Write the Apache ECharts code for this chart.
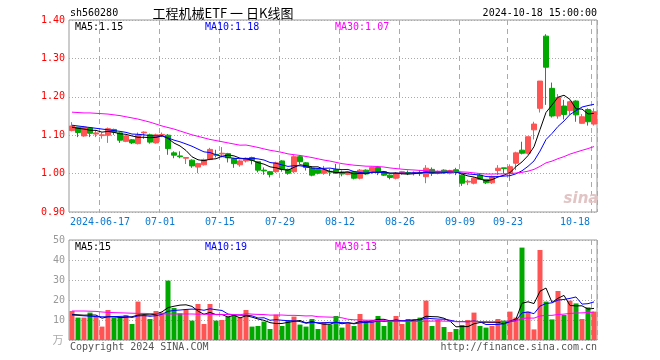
<!DOCTYPE html>
<html><head><meta charset="utf-8">
<script src="https://cdn.jsdelivr.net/npm/echarts@6/dist/echarts.min.js"></script>
<style>html,body{margin:0;padding:0;background:#fff}#c{width:660px;height:360px}</style>
</head><body><div id="c"></div>
<script>
const categories = [
'2024-06-07','2024-06-11','2024-06-12','2024-06-13','2024-06-14',
'2024-06-17','2024-06-18','2024-06-19','2024-06-20','2024-06-21',
'2024-06-24','2024-06-25','2024-06-26','2024-06-27','2024-06-28',
'2024-07-01','2024-07-02','2024-07-03','2024-07-04','2024-07-05',
'2024-07-08','2024-07-09','2024-07-10','2024-07-11','2024-07-12',
'2024-07-15','2024-07-16','2024-07-17','2024-07-18','2024-07-19',
'2024-07-22','2024-07-23','2024-07-24','2024-07-25','2024-07-26',
'2024-07-29','2024-07-30','2024-07-31','2024-08-01','2024-08-02',
'2024-08-05','2024-08-06','2024-08-07','2024-08-08','2024-08-09',
'2024-08-12','2024-08-13','2024-08-14','2024-08-15','2024-08-16',
'2024-08-19','2024-08-20','2024-08-21','2024-08-22','2024-08-23',
'2024-08-26','2024-08-27','2024-08-28','2024-08-29','2024-08-30',
'2024-09-02','2024-09-03','2024-09-04','2024-09-05','2024-09-06',
'2024-09-09','2024-09-10','2024-09-11','2024-09-12','2024-09-13',
'2024-09-18','2024-09-19','2024-09-20',
'2024-09-23','2024-09-24','2024-09-25','2024-09-26','2024-09-27',
'2024-09-30',
'2024-10-08','2024-10-09','2024-10-10','2024-10-11',
'2024-10-14','2024-10-15','2024-10-16','2024-10-17','2024-10-18'];

const opens = [
1.112,1.121,1.098,1.119,1.103,1.099,1.100,1.115,1.106,1.084,
1.088,1.078,1.106,1.101,1.080,1.100,1.100,1.054,1.046,1.040,
1.035,1.017,1.023,1.037,1.050,1.051,1.052,1.039,1.023,1.033,
1.042,1.031,1.009,1.005,1.005,1.033,1.011,1.005,1.044,1.028,
1.014,1.011,1.001,1.006,1.011,1.004,0.998,1.005,0.988,1.009,
1.005,1.016,1.005,0.996,0.988,1.001,1.003,1.000,1.002,0.992,
1.011,1.001,1.009,1.001,1.010,0.996,0.978,0.975,0.996,0.985,
0.976,1.008,1.015,1.002,1.027,1.061,1.053,1.114,1.170,1.358,
1.222,1.150,1.176,1.164,1.189,1.131,1.167,1.129];
const closes = [
1.124,1.107,1.121,1.105,1.106,1.101,1.117,1.108,1.087,1.098,
1.080,1.100,1.108,1.082,1.101,1.102,1.065,1.048,1.044,1.042,
1.020,1.026,1.036,1.063,1.048,1.053,1.041,1.026,1.033,1.040,
1.034,1.009,1.007,0.998,1.028,1.011,1.001,1.044,1.031,1.016,
0.996,1.001,1.011,1.004,1.001,0.999,1.005,0.988,1.009,0.999,
1.016,1.005,0.996,0.990,1.001,1.005,1.001,1.002,1.000,1.014,
1.001,1.005,1.002,1.008,1.004,0.975,0.980,0.988,0.985,0.976,
0.992,1.014,1.013,1.018,1.054,1.053,1.096,1.129,1.241,1.277,
1.150,1.198,1.154,1.187,1.153,1.148,1.135,1.161];
const lows = [
1.110,1.095,1.096,1.095,1.095,1.091,1.080,1.101,1.080,1.082,
1.077,1.076,1.090,1.078,1.078,1.095,1.049,1.040,1.040,1.025,
1.015,1.001,1.021,1.035,1.042,1.042,1.029,1.015,1.018,1.029,
1.024,1.003,0.997,0.990,1.002,1.005,0.997,1.001,1.025,1.008,
0.993,0.998,0.997,0.994,0.999,0.993,0.996,0.985,0.985,0.997,
0.999,0.996,0.994,0.985,0.985,0.997,0.996,0.995,0.994,0.975,
0.994,0.998,1.000,0.998,0.996,0.968,0.970,0.972,0.985,0.973,
0.973,0.996,1.000,0.981,1.009,1.050,1.050,1.089,1.159,1.179,
1.146,1.143,1.141,1.152,1.135,1.130,1.125,1.125];
const highs = [
1.134,1.121,1.124,1.119,1.113,1.107,1.120,1.117,1.108,1.100,
1.090,1.107,1.110,1.104,1.104,1.107,1.103,1.058,1.058,1.042,
1.037,1.028,1.039,1.067,1.062,1.069,1.054,1.041,1.036,1.042,
1.044,1.033,1.016,1.007,1.031,1.035,1.013,1.048,1.048,1.030,
1.019,1.013,1.020,1.012,1.025,1.008,1.007,1.007,1.012,1.011,
1.018,1.020,1.007,0.998,1.004,1.007,1.008,1.006,1.009,1.022,
1.016,1.008,1.011,1.010,1.015,0.998,0.984,0.990,0.999,0.986,
0.995,1.022,1.015,1.024,1.057,1.083,1.096,1.135,1.241,1.363,
1.237,1.207,1.192,1.190,1.191,1.155,1.170,1.170];

const volumes = [
14.5,11.2,11.2,13.7,11.7,6.7,15.0,11.3,11.3,12.5,
8.0,19.2,12.5,10.5,14.5,13.7,29.7,16.0,13.3,15.3,
9.7,18.0,8.0,18.0,9.7,10.0,11.7,12.5,11.3,15.0,
6.7,7.0,9.2,5.5,12.7,7.0,9.7,11.7,7.7,6.7,
10.5,5.5,9.0,7.8,12.0,6.2,8.3,7.0,13.0,9.7,
10.0,12.0,7.0,9.2,12.0,8.0,10.5,10.0,11.2,19.7,
7.0,10.0,6.5,4.0,5.5,7.5,10.0,13.7,7.0,6.2,
7.0,10.5,9.7,14.2,11.2,46.2,14.2,5.3,45.0,19.2,
10.3,24.5,12.5,19.7,18.3,10.5,16.3,14.2];

// moving-average values before a full window is available
const ma5Head = [1.121,1.118,1.116,1.113];
const ma10Head = [1.126,1.124,1.122,1.120,1.118,1.116,1.114,1.112,1.110];
const ma30Head = [1.160,1.159,1.158,1.158,1.157,1.156,1.155,1.153,1.151,1.148,
1.145,1.142,1.138,1.134,1.129,1.124,1.120,1.116,1.111,1.106,
1.101,1.097,1.093,1.089,1.086,1.083,1.080,1.077,1.074];
const volMa5Head = [12.8,12.6,12.4,12.5];
const volMa10Head = [12.5,12.3,12.1,11.9,11.7,11.6,11.6,11.7,11.8];
const volMa30Head = [14.5,14.5,14.5,14.4,14.3,14.0,13.8,13.7,13.6,13.5,
13.4,13.3,13.3,13.2,13.2,13.1,13.0,13.0,13.0,13.0,
13.0,12.9,12.9,12.8,12.8,12.8,12.7,12.7,12.6];

const tickDates = ['2024-06-17','2024-07-01','2024-07-15','2024-07-29','2024-08-12','2024-08-26','2024-09-09','2024-09-23','2024-10-18'];
const tickTexts = ['2024-06-17','07-01','07-15','07-29','08-12','08-26','09-09','09-23','10-18'];

const RED = '#ff5454', GREEN = '#00a800';
const MONO = '"DejaVu Sans Mono", "Liberation Mono", monospace';

function movingAvg(vals, n, head, dp) {
  return vals.map((v, i) => {
    if (i < n - 1) return head[i];
    let s = 0;
    for (let k = i - n + 1; k <= i; k++) s += vals[k];
    return +(s / n).toFixed(dp);
  });
}

const candleData = opens.map((o, i) => [o, closes[i], lows[i], highs[i]]);
const volData = volumes.map((v, i) => ({
  value: v,
  itemStyle: { color: closes[i] >= opens[i] ? RED : GREEN }
}));

const isTick = (idx) => tickDates.indexOf(categories[idx]) >= 0;
const lastTick = tickDates[tickDates.length - 1];

function xAxisDef(gridIndex, showLabels) {
  return {
    type: 'category', data: categories, gridIndex: gridIndex, boundaryGap: true,
    axisLine: { show: false }, axisTick: { show: false },
    axisLabel: {
      show: showLabels, interval: (idx) => isTick(idx), margin: 5,
      formatter: (v) => {
        const t = tickTexts[tickDates.indexOf(v)];
        return v === lastTick ? '{r|' + t + '}' : '{n|' + t + '}';
      },
      rich: {
        n: { color: '#0a7ad2', fontFamily: MONO, fontSize: 10, padding: [0, 4, 0, 0] },
        r: { color: '#0a7ad2', fontFamily: MONO, fontSize: 10, padding: [0, 38, 0, 0] }
      }
    },
    splitLine: { show: true, interval: (idx) => isTick(idx),
      lineStyle: { color: '#aaa', type: [5, 4], width: 1 } }
  };
}

function lineSeries(data, color, xi, yi) {
  return { type: 'line', data: data, xAxisIndex: xi, yAxisIndex: yi, showSymbol: false,
    symbol: 'none', lineStyle: { color: color, width: 1 }, itemStyle: { color: color }, z: 5, silent: true };
}

function txt(x, y, text, color, opt) {
  opt = opt || {};
  const align = opt.align || 'left';
  return { type: 'text', x: x, y: y, silent: true, z: 100,
    style: { text: text, fill: color, font: opt.font || ('10px ' + MONO),
      textAlign: align, align: align, textVerticalAlign: 'middle', verticalAlign: 'middle' } };
}

const chart = echarts.init(document.getElementById('c'), null, { renderer: 'canvas' });
chart.setOption({
  animation: false,
  backgroundColor: '#fff',
  grid: [
    { left: 69, top: 20, width: 528, height: 192, show: true, borderColor: '#999', borderWidth: 1, backgroundColor: 'transparent' },
    { left: 69, top: 240, width: 528, height: 100, show: true, borderColor: '#999', borderWidth: 1, backgroundColor: 'transparent' }
  ],
  xAxis: [xAxisDef(0, true), xAxisDef(1, false)],
  yAxis: [
    { type: 'value', gridIndex: 0, min: 0.9, max: 1.4, interval: 0.1, scale: true,
      axisLine: { show: false }, axisTick: { show: false },
      axisLabel: { color: '#f00', fontFamily: MONO, fontSize: 10, margin: 4, formatter: (v) => v.toFixed(2) },
      splitLine: { show: true, lineStyle: { color: '#aaa', type: [1, 2] } } },
    { type: 'value', gridIndex: 1, min: 0, max: 50, interval: 10,
      axisLine: { show: false }, axisTick: { show: false },
      axisLabel: { color: '#999', fontFamily: MONO, fontSize: 10, margin: 4, showMinLabel: false },
      splitLine: { show: true, lineStyle: { color: '#aaa', type: [1, 2] } } }
  ],
  series: [
    { type: 'candlestick', data: candleData, xAxisIndex: 0, yAxisIndex: 0, barWidth: 5,
      itemStyle: { color: RED, color0: GREEN, borderColor: RED, borderColor0: GREEN, borderWidth: 1 }, silent: true },
    lineSeries(movingAvg(closes, 5, ma5Head, 4), '#000', 0, 0),
    lineSeries(movingAvg(closes, 10, ma10Head, 4), '#0000ff', 0, 0),
    lineSeries(movingAvg(closes, 30, ma30Head, 4), '#ff00ff', 0, 0),
    { type: 'bar', data: volData, xAxisIndex: 1, yAxisIndex: 1, barWidth: 5, silent: true },
    lineSeries(movingAvg(volumes, 5, volMa5Head, 2), '#000', 1, 1),
    lineSeries(movingAvg(volumes, 10, volMa10Head, 2), '#0000ff', 1, 1),
    lineSeries(movingAvg(volumes, 30, volMa30Head, 2), '#ff00ff', 1, 1)
  ],
  graphic: [
    txt(70, 13, 'sh560280', '#000'),
    txt(223, 13, '工程机械ETF 一 日K线图', '#000', { align: 'center', font: '13px "Noto Sans CJK SC"' }),
    txt(597, 13, '2024-10-18 15:00:00', '#000', { align: 'right' }),
    txt(75, 27, 'MA5:1.15', '#000'),
    txt(205, 27, 'MA10:1.18', '#0000ff'),
    txt(335, 27, 'MA30:1.07', '#ff00ff'),
    txt(75, 247, 'MA5:15', '#000'),
    txt(205, 247, 'MA10:19', '#0000ff'),
    txt(335, 247, 'MA30:13', '#ff00ff'),
    txt(70, 347, 'Copyright 2024 SINA.COM', '#555'),
    txt(597, 347, 'http://finance.sina.com.cn', '#555', { align: 'right' }),
    txt(58, 340, '万', '#aaa', { align: 'center', font: '11px "Noto Sans CJK SC"' }),
    txt(581, 199, 'sina', '#e2c4c4', { align: 'center', font: 'italic bold 15px "DejaVu Sans"' })
  ]
});
</script></body></html>
